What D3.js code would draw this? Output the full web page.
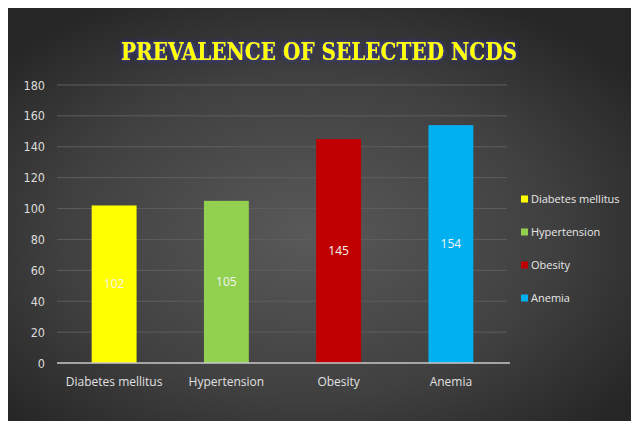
<!DOCTYPE html>
<html><head><meta charset="utf-8">
<script src="https://cdn.jsdelivr.net/npm/d3@7"></script>
<style>html,body{margin:0;padding:0;background:#fff;}svg{display:block;}</style>
</head><body>
<script>
const categories = ["Diabetes mellitus", "Hypertension", "Obesity", "Anemia"];
const values = [102, 105, 145, 154];
const colors = ["#ffff00", "#92d050", "#c00000", "#00b0f0"];
const yTicks = [0, 20, 40, 60, 80, 100, 120, 140, 160, 180];
const title = "PREVALENCE OF SELECTED NCDS";

const W = 631, H = 424;
const svg = d3.select("body").append("svg").attr("width", W).attr("height", H);
const defs = svg.append("defs");
const grad = defs.append("radialGradient").attr("id", "bg")
  .attr("cx", "48%").attr("cy", "55%").attr("r", "65%");
grad.append("stop").attr("offset", "0%").attr("stop-color", "#595959");
grad.append("stop").attr("offset", "60%").attr("stop-color", "#404040");
grad.append("stop").attr("offset", "100%").attr("stop-color", "#262626");
const glow = defs.append("filter").attr("id", "glow").attr("x", "-10%").attr("y", "-40%").attr("width", "120%").attr("height", "180%");
glow.append("feGaussianBlur").attr("in", "SourceAlpha").attr("stdDeviation", 2.5).attr("result", "b");
glow.append("feFlood").attr("flood-color", "#3c3c9a").attr("flood-opacity", 0.9);
glow.append("feComposite").attr("in2", "b").attr("operator", "in").attr("result", "g");
const m = glow.append("feMerge");
m.append("feMergeNode").attr("in", "g");
m.append("feMergeNode").attr("in", "g");
m.append("feMergeNode").attr("in", "SourceGraphic");

svg.append("rect").attr("x", 8).attr("y", 8).attr("width", W - 8).attr("height", 413).attr("fill", "url(#bg)");

const x = d3.scaleBand().domain(categories).range([58, 507]).paddingInner(0.6).paddingOuter(0.3);
const y = d3.scaleLinear().domain([0, 180]).range([363, 85]);
const narrow = "'DejaVu Sans Condensed','DejaVu Sans',sans-serif";

// gridlines
svg.append("g").selectAll("line").data(yTicks.filter(d => d > 0)).join("line")
  .attr("x1", 57).attr("x2", 507).attr("y1", d => y(d)).attr("y2", d => y(d))
  .attr("stroke", "#5e5e5e").attr("stroke-width", 1);

// y axis labels
const yAxis = d3.axisLeft(y).tickValues(yTicks).tickSize(0).tickPadding(0);
const gy = svg.append("g").attr("transform", "translate(45,0)").call(yAxis);
gy.select(".domain").remove();
gy.selectAll("text").attr("fill", "#dcdcdc").attr("font-size", 12.5)
  .attr("font-family", narrow).attr("font-stretch", "condensed");

// bars
svg.append("g").selectAll("rect").data(categories).join("rect")
  .attr("x", d => x(d)).attr("width", x.bandwidth())
  .attr("y", (d, i) => y(values[i])).attr("height", (d, i) => y(0) - y(values[i]))
  .attr("fill", (d, i) => colors[i]);

// value labels
svg.append("g").selectAll("text").data(categories).join("text")
  .attr("x", d => x(d) + x.bandwidth() / 2)
  .attr("y", (d, i) => (y(values[i]) + y(0)) / 2)
  .attr("dy", "0.35em").attr("text-anchor", "middle")
  .attr("fill", "#f4f4f4").attr("font-size", 12)
  .attr("font-family", "'Open Sans',sans-serif")
  .text((d, i) => values[i]);

// x axis
const xAxis = d3.axisBottom(x).tickSize(0).tickPadding(14);
const gx = svg.append("g").attr("transform", `translate(0,${y(0)})`).call(xAxis);
gx.select(".domain").attr("stroke", "#c8c8c8").attr("stroke-width", 1.5).attr("d", "M57,0H510");
gx.selectAll("text").attr("fill", "#e0e0e0").attr("font-size", 12)
  .attr("font-family", "'Open Sans',sans-serif");

// title
svg.append("text").attr("x", 319).attr("y", 60).attr("text-anchor", "middle")
  .attr("font-family", "'DejaVu Serif Condensed','DejaVu Serif',serif").attr("font-weight", "bold")
  .attr("font-stretch", "condensed")
  .attr("font-size", 25).attr("fill", "#ffff00")
  .attr("textLength", 396).attr("lengthAdjust", "spacingAndGlyphs")
  .attr("filter", "url(#glow)").text(title);

// legend
const lg = svg.append("g").selectAll("g").data(categories).join("g")
  .attr("transform", (d, i) => `translate(521,${199 + i * 33})`);
lg.append("rect").attr("x", 0).attr("y", -3.5).attr("width", 7).attr("height", 7)
  .attr("fill", (d, i) => colors[i]);
lg.append("text").attr("x", 10).attr("dy", "0.35em").attr("fill", "#e8e8e8")
  .attr("font-size", 11).attr("font-family", "'Open Sans',sans-serif")
  .text(d => d);
</script>
</body></html>
